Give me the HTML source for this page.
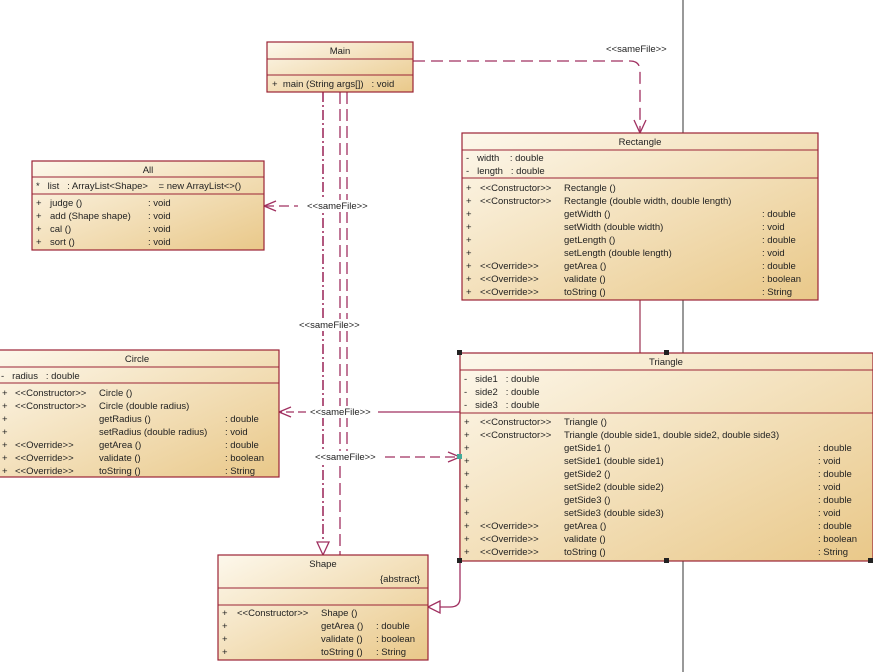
<!DOCTYPE html>
<html><head><meta charset="utf-8"><style>
html,body{margin:0;padding:0;background:#fff;width:873px;height:672px;overflow:hidden}
svg text{font-family:"Liberation Sans",sans-serif;font-size:9.5px;fill:#222}
.h{text-anchor:middle}
</style></head><body>
<svg width="873" height="672" viewBox="0 0 873 672" xmlns="http://www.w3.org/2000/svg">
<defs>
<linearGradient id="g" x1="0" y1="0" x2="1" y2="1">
<stop offset="0" stop-color="#fdf8ec"/><stop offset="1" stop-color="#e9c889"/>
</linearGradient>
</defs>
<line x1="683" y1="0" x2="683" y2="672" stroke="#333" stroke-width="1"/>
<line x1="640" y1="300" x2="640" y2="353" stroke="#9b3050" stroke-width="1.2"/>

<!-- connectors -->
<g fill="none" stroke="#a03060" stroke-width="1.3">
<path d="M413 61 H630 Q640 61 640 71 V133" stroke-dasharray="12 6"/>
<path d="M634 120 L640 133 L646 120"/>
<path d="M340 92 V555" stroke-dasharray="12 5"/>
<path d="M347 92 V455" stroke-dasharray="12 5"/>
<path d="M323 92 V555" stroke-dasharray="10 3 2 3" stroke-width="1.6"/>
<path d="M317 542 L323 555 L329 542 Z" fill="#fff"/>
<path d="M340 206 H306" stroke-dasharray="10 5"/>
<path d="M264 206 H298" stroke-dasharray="10 5"/>
<path d="M276 201 L264 206 L276 211"/>
<path d="M460 412 H378"/>
<path d="M306 412 H279" stroke-dasharray="8 4"/>
<path d="M291 407 L279 412 L291 417"/>
<path d="M385 457 H460" stroke-dasharray="10 5"/>
<path d="M448 452 L460 457 L448 462"/>
<path d="M460 457 V598 Q460 607 450 607 H440"/>
<path d="M440 601 L428 607 L440 613 Z" fill="#fff"/>
</g>
<g fill="#fff">
<rect x="605" y="42" width="70" height="12"/>
<rect x="306" y="200" width="70" height="12"/>
<rect x="298" y="319" width="70" height="12"/>
<rect x="308" y="406" width="70" height="12"/>
<rect x="313" y="451" width="70" height="12"/>
</g>
<text x="606" y="52">&lt;&lt;sameFile&gt;&gt;</text>
<text x="307" y="209">&lt;&lt;sameFile&gt;&gt;</text>
<text x="299" y="328">&lt;&lt;sameFile&gt;&gt;</text>
<text x="310" y="415">&lt;&lt;sameFile&gt;&gt;</text>
<text x="315" y="460">&lt;&lt;sameFile&gt;&gt;</text>

<g stroke="#9b2335" stroke-width="1.2" fill="url(#g)">
<rect x="267" y="42" width="146" height="50"/>
<rect x="462" y="133" width="356" height="167"/>
<rect x="32" y="161" width="232" height="89"/>
<rect x="-5" y="350" width="284" height="127"/>
<rect x="460" y="353" width="413" height="208"/>
<rect x="218" y="555" width="210" height="105"/>
</g>
<g stroke="#9b2335" stroke-width="1">
<line x1="267" y1="59" x2="413" y2="59"/><line x1="267" y1="75" x2="413" y2="75"/>
<line x1="462" y1="150" x2="818" y2="150"/><line x1="462" y1="178" x2="818" y2="178"/>
<line x1="32" y1="177" x2="264" y2="177"/><line x1="32" y1="194" x2="264" y2="194"/>
<line x1="0" y1="367" x2="279" y2="367"/><line x1="0" y1="383" x2="279" y2="383"/>
<line x1="460" y1="370" x2="873" y2="370"/><line x1="460" y1="413" x2="873" y2="413"/>
<line x1="218" y1="588" x2="428" y2="588"/><line x1="218" y1="605" x2="428" y2="605"/>
</g>
<g fill="#222">
<rect x="457" y="350" width="5" height="5"/><rect x="664" y="350" width="5" height="5"/>
<rect x="457" y="558" width="5" height="5"/><rect x="664" y="558" width="5" height="5"/>
<rect x="868" y="558" width="5" height="5"/>
</g>
<rect x="457" y="454" width="5" height="5" fill="#4a9"/>

<!-- Main -->
<text class="h" x="340" y="54">Main</text>
<text x="272" y="87">+ &#160;main (String args[]) &#160; : void</text>

<!-- Rectangle -->
<text class="h" x="640" y="145">Rectangle</text>
<text x="466" y="161">- &#160; width &#160;&#160;&#160;: double</text>
<text x="466" y="174">- &#160; length &#160; : double</text>
<g>
<text x="466" y="191">+</text><text x="480" y="191">&lt;&lt;Constructor&gt;&gt;</text><text x="564" y="191">Rectangle ()</text>
<text x="466" y="204">+</text><text x="480" y="204">&lt;&lt;Constructor&gt;&gt;</text><text x="564" y="204">Rectangle (double width, double length)</text>
<text x="466" y="217">+</text><text x="564" y="217">getWidth ()</text><text x="762" y="217">: double</text>
<text x="466" y="230">+</text><text x="564" y="230">setWidth (double width)</text><text x="762" y="230">: void</text>
<text x="466" y="243">+</text><text x="564" y="243">getLength ()</text><text x="762" y="243">: double</text>
<text x="466" y="256">+</text><text x="564" y="256">setLength (double length)</text><text x="762" y="256">: void</text>
<text x="466" y="269">+</text><text x="480" y="269">&lt;&lt;Override&gt;&gt;</text><text x="564" y="269">getArea ()</text><text x="762" y="269">: double</text>
<text x="466" y="282">+</text><text x="480" y="282">&lt;&lt;Override&gt;&gt;</text><text x="564" y="282">validate ()</text><text x="762" y="282">: boolean</text>
<text x="466" y="295">+</text><text x="480" y="295">&lt;&lt;Override&gt;&gt;</text><text x="564" y="295">toString ()</text><text x="762" y="295">: String</text>
</g>

<!-- All -->
<text class="h" x="148" y="173">All</text>
<text x="36" y="189">* &#160; list &#160; : ArrayList&lt;Shape&gt; &#160;&#160; = new ArrayList&lt;&gt;()</text>
<text x="36" y="206">+</text><text x="50" y="206">judge ()</text><text x="148" y="206">: void</text>
<text x="36" y="219">+</text><text x="50" y="219">add (Shape shape)</text><text x="148" y="219">: void</text>
<text x="36" y="232">+</text><text x="50" y="232">cal ()</text><text x="148" y="232">: void</text>
<text x="36" y="245">+</text><text x="50" y="245">sort ()</text><text x="148" y="245">: void</text>

<!-- Circle -->
<text class="h" x="137" y="362">Circle</text>
<text x="1" y="379">- &#160; radius &#160; : double</text>
<text x="2" y="396">+</text><text x="15" y="396">&lt;&lt;Constructor&gt;&gt;</text><text x="99" y="396">Circle ()</text>
<text x="2" y="409">+</text><text x="15" y="409">&lt;&lt;Constructor&gt;&gt;</text><text x="99" y="409">Circle (double radius)</text>
<text x="2" y="422">+</text><text x="99" y="422">getRadius ()</text><text x="225" y="422">: double</text>
<text x="2" y="435">+</text><text x="99" y="435">setRadius (double radius)</text><text x="225" y="435">: void</text>
<text x="2" y="448">+</text><text x="15" y="448">&lt;&lt;Override&gt;&gt;</text><text x="99" y="448">getArea ()</text><text x="225" y="448">: double</text>
<text x="2" y="461">+</text><text x="15" y="461">&lt;&lt;Override&gt;&gt;</text><text x="99" y="461">validate ()</text><text x="225" y="461">: boolean</text>
<text x="2" y="474">+</text><text x="15" y="474">&lt;&lt;Override&gt;&gt;</text><text x="99" y="474">toString ()</text><text x="225" y="474">: String</text>

<!-- Triangle -->
<text class="h" x="666" y="365">Triangle</text>
<text x="464" y="382">- &#160; side1 &#160; : double</text>
<text x="464" y="395">- &#160; side2 &#160; : double</text>
<text x="464" y="408">- &#160; side3 &#160; : double</text>
<text x="464" y="425">+</text><text x="480" y="425">&lt;&lt;Constructor&gt;&gt;</text><text x="564" y="425">Triangle ()</text>
<text x="464" y="438">+</text><text x="480" y="438">&lt;&lt;Constructor&gt;&gt;</text><text x="564" y="438">Triangle (double side1, double side2, double side3)</text>
<text x="464" y="451">+</text><text x="564" y="451">getSide1 ()</text><text x="818" y="451">: double</text>
<text x="464" y="464">+</text><text x="564" y="464">setSide1 (double side1)</text><text x="818" y="464">: void</text>
<text x="464" y="477">+</text><text x="564" y="477">getSide2 ()</text><text x="818" y="477">: double</text>
<text x="464" y="490">+</text><text x="564" y="490">setSide2 (double side2)</text><text x="818" y="490">: void</text>
<text x="464" y="503">+</text><text x="564" y="503">getSide3 ()</text><text x="818" y="503">: double</text>
<text x="464" y="516">+</text><text x="564" y="516">setSide3 (double side3)</text><text x="818" y="516">: void</text>
<text x="464" y="529">+</text><text x="480" y="529">&lt;&lt;Override&gt;&gt;</text><text x="564" y="529">getArea ()</text><text x="818" y="529">: double</text>
<text x="464" y="542">+</text><text x="480" y="542">&lt;&lt;Override&gt;&gt;</text><text x="564" y="542">validate ()</text><text x="818" y="542">: boolean</text>
<text x="464" y="555">+</text><text x="480" y="555">&lt;&lt;Override&gt;&gt;</text><text x="564" y="555">toString ()</text><text x="818" y="555">: String</text>

<!-- Shape -->
<text class="h" x="323" y="567">Shape</text>
<text x="380" y="582">{abstract}</text>
<text x="222" y="616">+</text><text x="237" y="616">&lt;&lt;Constructor&gt;&gt;</text><text x="321" y="616">Shape ()</text>
<text x="222" y="629">+</text><text x="321" y="629">getArea ()</text><text x="376" y="629">: double</text>
<text x="222" y="642">+</text><text x="321" y="642">validate ()</text><text x="376" y="642">: boolean</text>
<text x="222" y="655">+</text><text x="321" y="655">toString ()</text><text x="376" y="655">: String</text>
</svg>
</body></html>
